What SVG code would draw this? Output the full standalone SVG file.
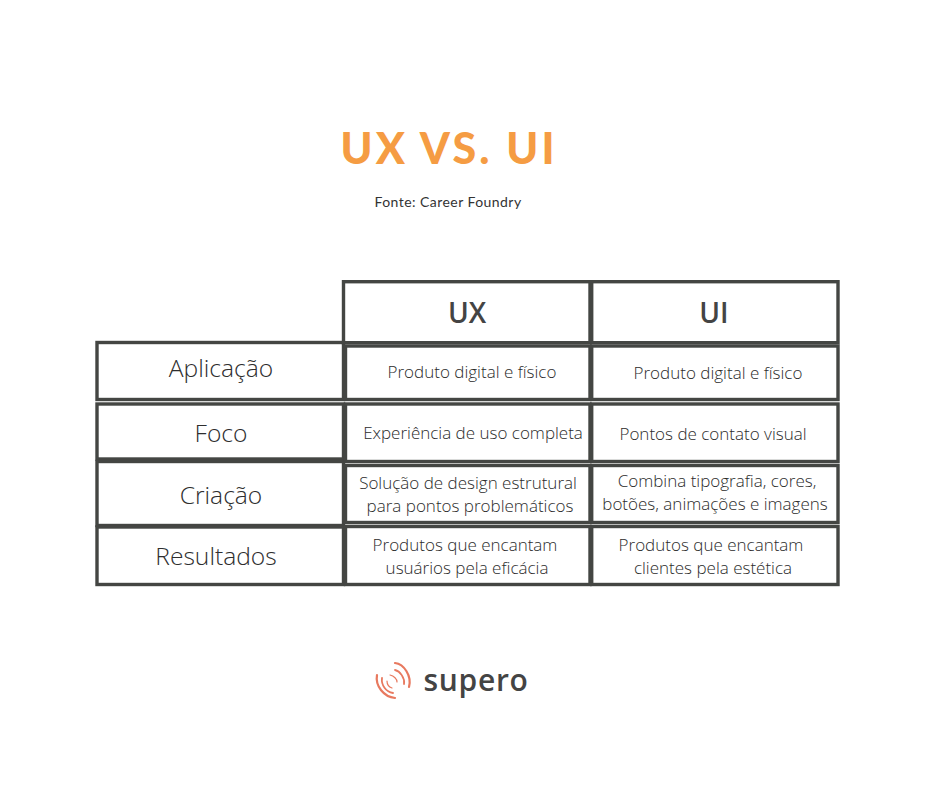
<svg xmlns="http://www.w3.org/2000/svg" width="940" height="788" viewBox="0 0 940 788">
<style>
.c{fill:none;stroke:#444643;stroke-width:3.4}
text{font-family:"Open Sans","Liberation Sans",sans-serif;fill:#333;text-anchor:middle}
.h{font-size:24.6px;font-weight:300;fill:#2e2e2e}
.b{font-size:17px;font-weight:300;fill:#2b2b2b}
.t{font-size:28px;font-weight:600;fill:#444}
.a{fill:none;stroke:#e8795f;stroke-linecap:round}
</style>
<rect width="940" height="788" fill="#fff"/>
<g id="title"><text x="449" y="164" style="font-family:Lato,sans-serif;font-size:43px;font-weight:900;fill:#f59c43;letter-spacing:3.2px">UX VS. UI</text></g>
<g id="source"><text x="448" y="207" style="font-family:Lato,sans-serif;font-size:14px;font-weight:400;letter-spacing:.45px;fill:#333">Fonte: Career Foundry</text></g>
<g id="connectors"></g>
<g id="row-aplicacao-label"><rect class="c" x="97" y="342.5" width="246.5" height="57"/><text class="h" x="221" y="377">Aplicação</text></g>
<g id="row-foco-label"><rect class="c" x="97" y="404" width="246.5" height="55"/><text class="h" x="221" y="442">Foco</text></g>
<g id="row-criacao-label"><rect class="c" x="97" y="461.5" width="246.5" height="64"/><text class="h" x="221" y="504">Criação</text></g>
<g id="row-resultados-label"><rect class="c" x="97" y="527" width="246.5" height="57.5"/><text class="h" x="216" y="565">Resultados</text></g>
<g id="head-ux"><rect class="c" x="343.5" y="281.7" width="246.5" height="61"/><text class="t" x="467" y="323">UX</text></g>
<g id="head-ui"><rect class="c" x="591.7" y="281.7" width="246.3" height="61"/><text class="t" x="714" y="323">UI</text></g>
<g id="ux-aplicacao"><rect class="c" x="345.5" y="346" width="244.5" height="53.5"/><text class="b" x="472" y="378">Produto digital e físico</text></g>
<g id="ui-aplicacao"><rect class="c" x="591.7" y="346" width="246.3" height="53.5"/><text class="b" x="718" y="379">Produto digital e físico</text></g>
<g id="ux-foco"><rect class="c" x="345.5" y="404" width="244.5" height="57.5"/><text class="b" x="473" y="439">Experiência de uso completa</text></g>
<g id="ui-foco"><rect class="c" x="591.7" y="404" width="246.3" height="57.5"/><text class="b" x="713" y="440">Pontos de contato visual</text></g>
<g id="ux-criacao"><rect class="c" x="345.5" y="465.5" width="244.5" height="57"/><text class="b" x="468" y="489">Solução de design estrutural</text><text class="b" x="470" y="512">para pontos problemáticos</text></g>
<g id="ui-criacao"><rect class="c" x="591.7" y="465.5" width="246.3" height="57"/><text class="b" x="717" y="487">Combina tipografia, cores,</text><text class="b" x="715" y="510">botões, animações e imagens</text></g>
<g id="ux-resultados"><rect class="c" x="345.5" y="526.5" width="244.5" height="58"/><text class="b" x="465" y="551">Produtos que encantam</text><text class="b" x="467" y="574">usuários pela eficácia</text></g>
<g id="ui-resultados"><rect class="c" x="591.7" y="526.5" width="246.3" height="58"/><text class="b" x="711" y="551">Produtos que encantam</text><text class="b" x="713" y="574">clientes pela estética</text></g>
<g id="logo">
<path class="a" stroke-width="2.2" d="M395 663C404 664 412 676 409 687"/>
<path class="a" stroke-width="1.8" d="M395 670C400 671 405 678 404 684"/>
<path class="a" stroke-width="1.2" d="M390 675C394 676 397 679 397 682"/>
<path class="a" stroke-width="2.2" d="M377 675C375 686 384 697 395 698"/>
<path class="a" stroke-width="1.8" d="M382 678C381 685 386 692 393 693"/>
<path class="a" stroke-width="1.2" d="M387 681C387 684 389 687 392 688"/>
<text x="476" y="691" style="font-family:'Open Sans',sans-serif;font-size:30px;font-weight:600;fill:#444;letter-spacing:.7px">supero</text>
</g>
</svg>
